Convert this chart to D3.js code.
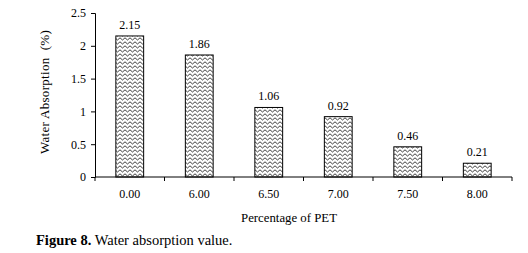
<!DOCTYPE html>
<html>
<head>
<meta charset="utf-8">
<script src="https://cdn.jsdelivr.net/npm/d3@7"></script>
<style>
  body { margin: 0; background: #fff; }
  svg text { font-family: "Liberation Serif", "Times New Roman", serif !important; fill: #000; }
</style>
</head>
<body>
<div id="chart"></div>
<script>
// data
const categories = ['0.00', '6.00', '6.50', '7.00', '7.50', '8.00'];
const absorption = [2.15, 1.86, 1.06, 0.92, 0.46, 0.21];
const yTicks = [0, 0.5, 1, 1.5, 2, 2.5];

const width = 528, height = 253;
const margin = { top: 13, right: 16, bottom: 76, left: 95 };
const innerW = width - margin.left - margin.right;
const innerH = height - margin.top - margin.bottom;
const serif = '"Liberation Serif", "Times New Roman", serif';

const svg = d3.select('#chart').append('svg')
  .attr('width', width)
  .attr('height', height)
  .attr('font-family', serif);

// zigzag fill pattern
const defs = svg.append('defs');
const pat = defs.append('pattern')
  .attr('id', 'zigzag')
  .attr('patternUnits', 'userSpaceOnUse')
  .attr('width', 5)
  .attr('height', 4);
pat.append('rect').attr('width', 5).attr('height', 4).attr('fill', '#fff');
pat.append('path')
  .attr('d', 'M0,0.8 L2.5,3 L5,0.8')
  .attr('fill', 'none')
  .attr('stroke', '#000')
  .attr('stroke-width', 0.75);

const g = svg.append('g')
  .attr('transform', `translate(${margin.left},${margin.top})`);

const x = d3.scaleBand()
  .domain(categories)
  .range([0, innerW])
  .paddingInner(0.6)
  .paddingOuter(0.3);

const y = d3.scaleLinear()
  .domain([0, 2.5])
  .range([innerH, 0]);

// bars
g.selectAll('.bar')
  .data(absorption)
  .enter().append('rect')
  .attr('class', 'bar')
  .attr('x', (d, i) => x(categories[i]))
  .attr('y', d => y(d))
  .attr('width', x.bandwidth())
  .attr('height', d => innerH - y(d))
  .attr('fill', 'url(#zigzag)')
  .attr('stroke', '#000')
  .attr('stroke-width', 1);

// value labels
g.selectAll('.val')
  .data(absorption)
  .enter().append('text')
  .attr('class', 'val')
  .attr('x', (d, i) => x(categories[i]) + x.bandwidth() / 2)
  .attr('y', d => y(d) - 7)
  .attr('text-anchor', 'middle')
  .attr('font-size', 12)
  .text(d => d.toFixed(2));

// y axis
const yAxis = g.append('g')
  .call(d3.axisLeft(y).tickValues(yTicks).tickSize(4).tickPadding(5).tickFormat(d3.format('')));
yAxis.attr('font-family', serif);
yAxis.selectAll('text').attr('font-size', 12);

// x axis: line with ticks at band boundaries
const xAxis = g.append('g')
  .attr('transform', `translate(0,${innerH})`)
  .call(d3.axisBottom(x).tickSize(0).tickPadding(12));
xAxis.attr('font-family', serif);
xAxis.select('.domain').attr('d', `M0.5,0H${innerW}`);
xAxis.selectAll('text').attr('font-size', 12);
const step = x.step();
xAxis.selectAll('.bound')
  .data(d3.range(categories.length + 1))
  .enter().append('line')
  .attr('class', 'bound')
  .attr('x1', i => i * step)
  .attr('x2', i => i * step)
  .attr('y1', 0)
  .attr('y2', 4)
  .attr('stroke', '#000');

svg.selectAll('.domain, .tick line').attr('stroke', '#000');

// axis titles
svg.append('text')
  .attr('transform', `translate(49,${margin.top + innerH / 2 - 3}) rotate(-90)`)
  .attr('text-anchor', 'middle')
  .attr('font-size', 13)
  .attr('letter-spacing', 0.3)
  .attr('xml:space', 'preserve')
  .text('Water Absorption  (%)');

svg.append('text')
  .attr('x', 289)
  .attr('y', 222)
  .attr('text-anchor', 'middle')
  .attr('font-size', 12.8)
  .text('Percentage of PET');

// caption
const cap = svg.append('text')
  .attr('x', 36)
  .attr('y', 245)
  .attr('font-size', 14.5);
cap.append('tspan').attr('font-weight', 'bold').text('Figure 8.');
cap.append('tspan').text(' Water absorption value.');
</script>
</body>
</html>
